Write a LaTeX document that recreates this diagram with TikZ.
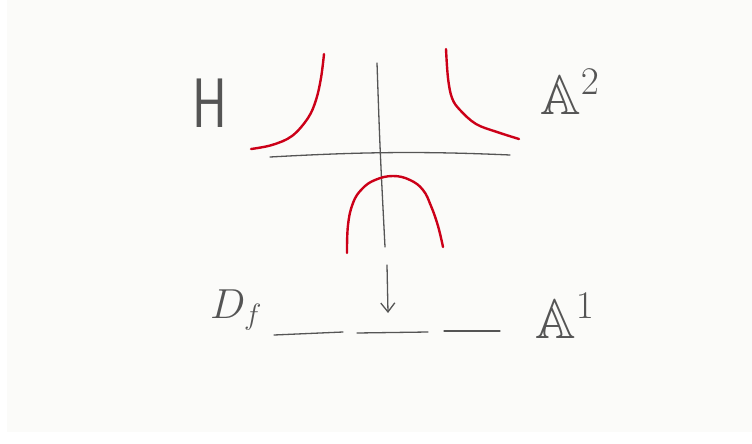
\RequirePackage{fix-cm}
\documentclass[tikz,border=0pt]{standalone}
\usepackage{amssymb}
\usetikzlibrary{arrows.meta}
\definecolor{bg}{HTML}{FBFBF9}
\definecolor{pen}{HTML}{555555}
\definecolor{redpen}{HTML}{CC0018}
\tikzset{
  graystroke/.style={draw=pen, line width=1.3pt, line cap=round},
  redstroke/.style={draw=redpen, line width=2.4pt, line cap=round, line join=round},
  lbl/.style={text=pen, inner sep=0pt},
}
\begin{document}
\begin{tikzpicture}[x=1pt,y=-1pt]
\fill[white] (0,0) rectangle (752,444);
\fill[bg] (7,0) rectangle (752,432);
\useasboundingbox (0,0) rectangle (752,444);
% labels
\node[lbl, font=\fontsize{70}{72}\sffamily] (H) at (210,103) {\scalebox{0.75}[1]{H}};
\node[lbl, font=\fontsize{56}{60}\selectfont] (A2) at (570,92) {$\mathbb{A}^{\scriptstyle 2}$};
\node[lbl, font=\fontsize{42}{46}\selectfont] (Df) at (236,310) {$D_f$};
\node[lbl, font=\fontsize{56}{60}\selectfont] (A1) at (565,316) {$\mathbb{A}^{\scriptstyle 1}$};
% axes
\coordinate (vtop) at (377,63);
\coordinate (vbot) at (385,247);
\draw[graystroke] (vtop) .. controls (380,150) .. (vbot);
\coordinate (hl) at (270,157);
\coordinate (hr) at (510,155);
\draw[graystroke] (hl) .. controls (360,152) and (420,151) .. (hr);
% red curves
\draw[redstroke] plot[smooth, tension=0.6] coordinates {(324,54) (321,78) (316,100) (308,118) (292,136) (272,145) (251,149)};
\draw[redstroke] plot[smooth, tension=0.6] coordinates {(446,49) (448,78) (452,98) (460,110) (476,124) (497,132) (519,139)};
\draw[redstroke] plot[smooth, tension=0.7] coordinates {(347,253) (348,225) (353,203) (362,189) (375,180) (393,176) (410,180) (423,190) (431,206) (438,226) (443,247)};
% arrow
\coordinate (as) at (387,265);
\coordinate (ae) at (388,313);
\draw[graystroke, -{Straight Barb[length=9pt,width=14pt,line width=1.3pt]}] (as) -- (ae);
% dashed line
\coordinate (d1a) at (274,335); \coordinate (d1b) at (343,332);
\coordinate (d2a) at (357,333); \coordinate (d2b) at (428,332);
\coordinate (d3a) at (444,331); \coordinate (d3b) at (500,331);
\draw[graystroke] (d1a) -- (d1b);
\draw[graystroke] (d2a) -- (d2b);
\draw[graystroke] (d3a) -- (d3b);
\end{tikzpicture}
\end{document}
